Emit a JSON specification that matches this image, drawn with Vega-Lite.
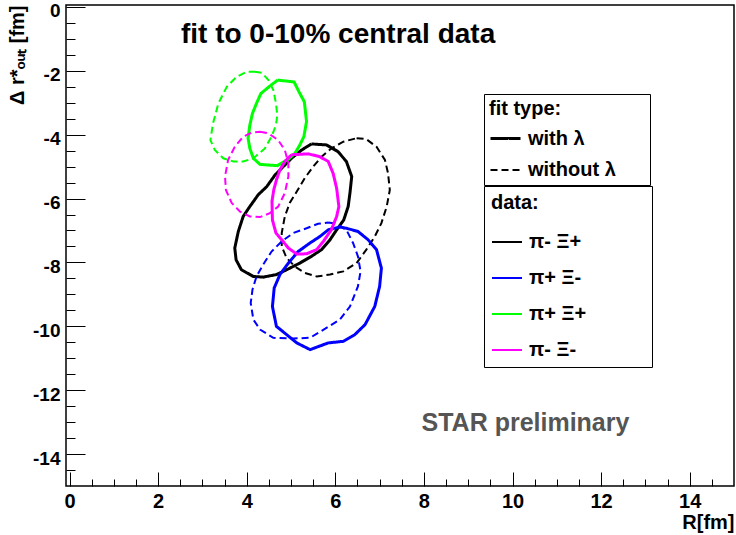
{
  "$schema": "https://vega.github.io/schema/vega-lite/v6.json",
  "description": "Contours of R vs delta r*_out for pi-Xi pairs, fits with and without lambda, 0-10% central data.",
  "width": 668,
  "height": 481,
  "autosize": {"type": "none"},
  "padding": {"left": 66, "top": 5, "right": 2, "bottom": 49},
  "background": "white",
  "datasets": {
    "contours": [
      {"s": "π- Ξ+", "f": "with λ", "i": 0, "R": 5.46, "dr": -4.29},
      {"s": "π- Ξ+", "f": "with λ", "i": 1, "R": 5.80, "dr": -4.32},
      {"s": "π- Ξ+", "f": "with λ", "i": 2, "R": 6.06, "dr": -4.53},
      {"s": "π- Ξ+", "f": "with λ", "i": 3, "R": 6.25, "dr": -4.84},
      {"s": "π- Ξ+", "f": "with λ", "i": 4, "R": 6.37, "dr": -5.31},
      {"s": "π- Ξ+", "f": "with λ", "i": 5, "R": 6.33, "dr": -5.83},
      {"s": "π- Ξ+", "f": "with λ", "i": 6, "R": 6.29, "dr": -6.25},
      {"s": "π- Ξ+", "f": "with λ", "i": 7, "R": 6.19, "dr": -6.67},
      {"s": "π- Ξ+", "f": "with λ", "i": 8, "R": 6.03, "dr": -6.98},
      {"s": "π- Ξ+", "f": "with λ", "i": 9, "R": 5.88, "dr": -7.29},
      {"s": "π- Ξ+", "f": "with λ", "i": 10, "R": 5.69, "dr": -7.60},
      {"s": "π- Ξ+", "f": "with λ", "i": 11, "R": 5.46, "dr": -7.81},
      {"s": "π- Ξ+", "f": "with λ", "i": 12, "R": 5.20, "dr": -8.02},
      {"s": "π- Ξ+", "f": "with λ", "i": 13, "R": 4.90, "dr": -8.23},
      {"s": "π- Ξ+", "f": "with λ", "i": 14, "R": 4.67, "dr": -8.38},
      {"s": "π- Ξ+", "f": "with λ", "i": 15, "R": 4.37, "dr": -8.46},
      {"s": "π- Ξ+", "f": "with λ", "i": 16, "R": 4.15, "dr": -8.44},
      {"s": "π- Ξ+", "f": "with λ", "i": 17, "R": 3.88, "dr": -8.23},
      {"s": "π- Ξ+", "f": "with λ", "i": 18, "R": 3.76, "dr": -7.92},
      {"s": "π- Ξ+", "f": "with λ", "i": 19, "R": 3.73, "dr": -7.55},
      {"s": "π- Ξ+", "f": "with λ", "i": 20, "R": 3.81, "dr": -7.03},
      {"s": "π- Ξ+", "f": "with λ", "i": 21, "R": 3.92, "dr": -6.56},
      {"s": "π- Ξ+", "f": "with λ", "i": 22, "R": 4.07, "dr": -6.25},
      {"s": "π- Ξ+", "f": "with λ", "i": 23, "R": 4.26, "dr": -5.88},
      {"s": "π- Ξ+", "f": "with λ", "i": 24, "R": 4.45, "dr": -5.63},
      {"s": "π- Ξ+", "f": "with λ", "i": 25, "R": 4.64, "dr": -5.26},
      {"s": "π- Ξ+", "f": "with λ", "i": 26, "R": 4.79, "dr": -5.05},
      {"s": "π- Ξ+", "f": "with λ", "i": 27, "R": 5.01, "dr": -4.74},
      {"s": "π- Ξ+", "f": "with λ", "i": 28, "R": 5.24, "dr": -4.48},
      {"s": "π- Ξ+", "f": "with λ", "i": 29, "R": 5.46, "dr": -4.29},

      {"s": "π- Ξ+", "f": "without λ", "i": 0, "R": 6.48, "dr": -4.11},
      {"s": "π- Ξ+", "f": "without λ", "i": 1, "R": 6.70, "dr": -4.14},
      {"s": "π- Ξ+", "f": "without λ", "i": 2, "R": 6.93, "dr": -4.38},
      {"s": "π- Ξ+", "f": "without λ", "i": 3, "R": 7.12, "dr": -4.79},
      {"s": "π- Ξ+", "f": "without λ", "i": 4, "R": 7.19, "dr": -5.21},
      {"s": "π- Ξ+", "f": "without λ", "i": 5, "R": 7.23, "dr": -5.73},
      {"s": "π- Ξ+", "f": "without λ", "i": 6, "R": 7.16, "dr": -6.25},
      {"s": "π- Ξ+", "f": "without λ", "i": 7, "R": 7.04, "dr": -6.77},
      {"s": "π- Ξ+", "f": "without λ", "i": 8, "R": 6.89, "dr": -7.19},
      {"s": "π- Ξ+", "f": "without λ", "i": 9, "R": 6.70, "dr": -7.60},
      {"s": "π- Ξ+", "f": "without λ", "i": 10, "R": 6.48, "dr": -8.02},
      {"s": "π- Ξ+", "f": "without λ", "i": 11, "R": 6.18, "dr": -8.28},
      {"s": "π- Ξ+", "f": "without λ", "i": 12, "R": 5.88, "dr": -8.38},
      {"s": "π- Ξ+", "f": "without λ", "i": 13, "R": 5.58, "dr": -8.44},
      {"s": "π- Ξ+", "f": "without λ", "i": 14, "R": 5.31, "dr": -8.33},
      {"s": "π- Ξ+", "f": "without λ", "i": 15, "R": 5.09, "dr": -8.13},
      {"s": "π- Ξ+", "f": "without λ", "i": 16, "R": 4.90, "dr": -7.86},
      {"s": "π- Ξ+", "f": "without λ", "i": 17, "R": 4.79, "dr": -7.50},
      {"s": "π- Ξ+", "f": "without λ", "i": 18, "R": 4.79, "dr": -7.08},
      {"s": "π- Ξ+", "f": "without λ", "i": 19, "R": 4.86, "dr": -6.56},
      {"s": "π- Ξ+", "f": "without λ", "i": 20, "R": 4.97, "dr": -6.14},
      {"s": "π- Ξ+", "f": "without λ", "i": 21, "R": 5.13, "dr": -5.78},
      {"s": "π- Ξ+", "f": "without λ", "i": 22, "R": 5.31, "dr": -5.36},
      {"s": "π- Ξ+", "f": "without λ", "i": 23, "R": 5.50, "dr": -5.00},
      {"s": "π- Ξ+", "f": "without λ", "i": 24, "R": 5.69, "dr": -4.69},
      {"s": "π- Ξ+", "f": "without λ", "i": 25, "R": 5.91, "dr": -4.43},
      {"s": "π- Ξ+", "f": "without λ", "i": 26, "R": 6.18, "dr": -4.22},
      {"s": "π- Ξ+", "f": "without λ", "i": 27, "R": 6.48, "dr": -4.11},

      {"s": "π+ Ξ-", "f": "with λ", "i": 0, "R": 6.10, "dr": -6.89},
      {"s": "π+ Ξ-", "f": "with λ", "i": 1, "R": 6.25, "dr": -6.93},
      {"s": "π+ Ξ-", "f": "with λ", "i": 2, "R": 6.51, "dr": -7.03},
      {"s": "π+ Ξ-", "f": "with λ", "i": 3, "R": 6.74, "dr": -7.29},
      {"s": "π+ Ξ-", "f": "with λ", "i": 4, "R": 6.93, "dr": -7.60},
      {"s": "π+ Ξ-", "f": "with λ", "i": 5, "R": 7.04, "dr": -8.18},
      {"s": "π+ Ξ-", "f": "with λ", "i": 6, "R": 7.00, "dr": -8.75},
      {"s": "π+ Ξ-", "f": "with λ", "i": 7, "R": 6.89, "dr": -9.38},
      {"s": "π+ Ξ-", "f": "with λ", "i": 8, "R": 6.67, "dr": -9.95},
      {"s": "π+ Ξ-", "f": "with λ", "i": 9, "R": 6.44, "dr": -10.26},
      {"s": "π+ Ξ-", "f": "with λ", "i": 10, "R": 6.18, "dr": -10.47},
      {"s": "π+ Ξ-", "f": "with λ", "i": 11, "R": 5.84, "dr": -10.52},
      {"s": "π+ Ξ-", "f": "with λ", "i": 12, "R": 5.43, "dr": -10.73},
      {"s": "π+ Ξ-", "f": "with λ", "i": 13, "R": 5.13, "dr": -10.52},
      {"s": "π+ Ξ-", "f": "with λ", "i": 14, "R": 4.90, "dr": -10.26},
      {"s": "π+ Ξ-", "f": "with λ", "i": 15, "R": 4.67, "dr": -10.00},
      {"s": "π+ Ξ-", "f": "with λ", "i": 16, "R": 4.58, "dr": -9.38},
      {"s": "π+ Ξ-", "f": "with λ", "i": 17, "R": 4.62, "dr": -8.80},
      {"s": "π+ Ξ-", "f": "with λ", "i": 18, "R": 4.75, "dr": -8.38},
      {"s": "π+ Ξ-", "f": "with λ", "i": 19, "R": 4.94, "dr": -8.02},
      {"s": "π+ Ξ-", "f": "with λ", "i": 20, "R": 5.16, "dr": -7.66},
      {"s": "π+ Ξ-", "f": "with λ", "i": 21, "R": 5.43, "dr": -7.39},
      {"s": "π+ Ξ-", "f": "with λ", "i": 22, "R": 5.65, "dr": -7.19},
      {"s": "π+ Ξ-", "f": "with λ", "i": 23, "R": 5.84, "dr": -6.98},
      {"s": "π+ Ξ-", "f": "with λ", "i": 24, "R": 6.10, "dr": -6.89},

      {"s": "π+ Ξ-", "f": "without λ", "i": 0, "R": 5.84, "dr": -6.75},
      {"s": "π+ Ξ-", "f": "without λ", "i": 1, "R": 6.03, "dr": -6.79},
      {"s": "π+ Ξ-", "f": "without λ", "i": 2, "R": 6.25, "dr": -6.98},
      {"s": "π+ Ξ-", "f": "without λ", "i": 3, "R": 6.40, "dr": -7.39},
      {"s": "π+ Ξ-", "f": "without λ", "i": 4, "R": 6.51, "dr": -7.81},
      {"s": "π+ Ξ-", "f": "without λ", "i": 5, "R": 6.57, "dr": -8.28},
      {"s": "π+ Ξ-", "f": "without λ", "i": 6, "R": 6.51, "dr": -8.75},
      {"s": "π+ Ξ-", "f": "without λ", "i": 7, "R": 6.33, "dr": -9.38},
      {"s": "π+ Ξ-", "f": "without λ", "i": 8, "R": 6.10, "dr": -9.79},
      {"s": "π+ Ξ-", "f": "without λ", "i": 9, "R": 5.80, "dr": -10.05},
      {"s": "π+ Ξ-", "f": "without λ", "i": 10, "R": 5.43, "dr": -10.36},
      {"s": "π+ Ξ-", "f": "without λ", "i": 11, "R": 5.05, "dr": -10.38},
      {"s": "π+ Ξ-", "f": "without λ", "i": 12, "R": 4.60, "dr": -10.36},
      {"s": "π+ Ξ-", "f": "without λ", "i": 13, "R": 4.30, "dr": -10.10},
      {"s": "π+ Ξ-", "f": "without λ", "i": 14, "R": 4.15, "dr": -9.79},
      {"s": "π+ Ξ-", "f": "without λ", "i": 15, "R": 4.09, "dr": -9.27},
      {"s": "π+ Ξ-", "f": "without λ", "i": 16, "R": 4.13, "dr": -8.85},
      {"s": "π+ Ξ-", "f": "without λ", "i": 17, "R": 4.22, "dr": -8.44},
      {"s": "π+ Ξ-", "f": "without λ", "i": 18, "R": 4.37, "dr": -8.07},
      {"s": "π+ Ξ-", "f": "without λ", "i": 19, "R": 4.56, "dr": -7.66},
      {"s": "π+ Ξ-", "f": "without λ", "i": 20, "R": 4.79, "dr": -7.34},
      {"s": "π+ Ξ-", "f": "without λ", "i": 21, "R": 5.05, "dr": -7.08},
      {"s": "π+ Ξ-", "f": "without λ", "i": 22, "R": 5.35, "dr": -6.93},
      {"s": "π+ Ξ-", "f": "without λ", "i": 23, "R": 5.61, "dr": -6.79},
      {"s": "π+ Ξ-", "f": "without λ", "i": 24, "R": 5.84, "dr": -6.75},

      {"s": "π+ Ξ+", "f": "with λ", "i": 0, "R": 4.70, "dr": -2.29},
      {"s": "π+ Ξ+", "f": "with λ", "i": 1, "R": 5.07, "dr": -2.35},
      {"s": "π+ Ξ+", "f": "with λ", "i": 2, "R": 5.18, "dr": -2.66},
      {"s": "π+ Ξ+", "f": "with λ", "i": 3, "R": 5.30, "dr": -2.97},
      {"s": "π+ Ξ+", "f": "with λ", "i": 4, "R": 5.35, "dr": -3.59},
      {"s": "π+ Ξ+", "f": "with λ", "i": 5, "R": 5.29, "dr": -4.06},
      {"s": "π+ Ξ+", "f": "with λ", "i": 6, "R": 5.20, "dr": -4.32},
      {"s": "π+ Ξ+", "f": "with λ", "i": 7, "R": 5.09, "dr": -4.58},
      {"s": "π+ Ξ+", "f": "with λ", "i": 8, "R": 4.94, "dr": -4.77},
      {"s": "π+ Ξ+", "f": "with λ", "i": 9, "R": 4.69, "dr": -4.97},
      {"s": "π+ Ξ+", "f": "with λ", "i": 10, "R": 4.48, "dr": -4.95},
      {"s": "π+ Ξ+", "f": "with λ", "i": 11, "R": 4.30, "dr": -4.93},
      {"s": "π+ Ξ+", "f": "with λ", "i": 12, "R": 4.15, "dr": -4.74},
      {"s": "π+ Ξ+", "f": "with λ", "i": 13, "R": 4.07, "dr": -4.43},
      {"s": "π+ Ξ+", "f": "with λ", "i": 14, "R": 4.03, "dr": -4.11},
      {"s": "π+ Ξ+", "f": "with λ", "i": 15, "R": 4.07, "dr": -3.70},
      {"s": "π+ Ξ+", "f": "with λ", "i": 16, "R": 4.13, "dr": -3.33},
      {"s": "π+ Ξ+", "f": "with λ", "i": 17, "R": 4.22, "dr": -3.02},
      {"s": "π+ Ξ+", "f": "with λ", "i": 18, "R": 4.32, "dr": -2.71},
      {"s": "π+ Ξ+", "f": "with λ", "i": 19, "R": 4.52, "dr": -2.48},
      {"s": "π+ Ξ+", "f": "with λ", "i": 20, "R": 4.70, "dr": -2.29},

      {"s": "π+ Ξ+", "f": "without λ", "i": 0, "R": 4.18, "dr": -2.03},
      {"s": "π+ Ξ+", "f": "without λ", "i": 1, "R": 4.34, "dr": -2.06},
      {"s": "π+ Ξ+", "f": "without λ", "i": 2, "R": 4.49, "dr": -2.29},
      {"s": "π+ Ξ+", "f": "without λ", "i": 3, "R": 4.60, "dr": -2.60},
      {"s": "π+ Ξ+", "f": "without λ", "i": 4, "R": 4.66, "dr": -3.02},
      {"s": "π+ Ξ+", "f": "without λ", "i": 5, "R": 4.69, "dr": -3.38},
      {"s": "π+ Ξ+", "f": "without λ", "i": 6, "R": 4.66, "dr": -3.70},
      {"s": "π+ Ξ+", "f": "without λ", "i": 7, "R": 4.56, "dr": -4.06},
      {"s": "π+ Ξ+", "f": "without λ", "i": 8, "R": 4.41, "dr": -4.43},
      {"s": "π+ Ξ+", "f": "without λ", "i": 9, "R": 4.15, "dr": -4.74},
      {"s": "π+ Ξ+", "f": "without λ", "i": 10, "R": 3.92, "dr": -4.84},
      {"s": "π+ Ξ+", "f": "without λ", "i": 11, "R": 3.70, "dr": -4.84},
      {"s": "π+ Ξ+", "f": "without λ", "i": 12, "R": 3.47, "dr": -4.74},
      {"s": "π+ Ξ+", "f": "without λ", "i": 13, "R": 3.28, "dr": -4.48},
      {"s": "π+ Ξ+", "f": "without λ", "i": 14, "R": 3.18, "dr": -4.17},
      {"s": "π+ Ξ+", "f": "without λ", "i": 15, "R": 3.24, "dr": -3.64},
      {"s": "π+ Ξ+", "f": "without λ", "i": 16, "R": 3.36, "dr": -3.02},
      {"s": "π+ Ξ+", "f": "without λ", "i": 17, "R": 3.55, "dr": -2.50},
      {"s": "π+ Ξ+", "f": "without λ", "i": 18, "R": 3.77, "dr": -2.19},
      {"s": "π+ Ξ+", "f": "without λ", "i": 19, "R": 4.00, "dr": -2.03},
      {"s": "π+ Ξ+", "f": "without λ", "i": 20, "R": 4.18, "dr": -2.03},

      {"s": "π- Ξ-", "f": "with λ", "i": 0, "R": 5.01, "dr": -4.63},
      {"s": "π- Ξ-", "f": "with λ", "i": 1, "R": 5.39, "dr": -4.60},
      {"s": "π- Ξ-", "f": "with λ", "i": 2, "R": 5.65, "dr": -4.69},
      {"s": "π- Ξ-", "f": "with λ", "i": 3, "R": 5.84, "dr": -4.84},
      {"s": "π- Ξ-", "f": "with λ", "i": 4, "R": 5.95, "dr": -5.21},
      {"s": "π- Ξ-", "f": "with λ", "i": 5, "R": 6.03, "dr": -5.68},
      {"s": "π- Ξ-", "f": "with λ", "i": 6, "R": 6.08, "dr": -6.25},
      {"s": "π- Ξ-", "f": "with λ", "i": 7, "R": 6.03, "dr": -6.56},
      {"s": "π- Ξ-", "f": "with λ", "i": 8, "R": 5.91, "dr": -6.98},
      {"s": "π- Ξ-", "f": "with λ", "i": 9, "R": 5.73, "dr": -7.34},
      {"s": "π- Ξ-", "f": "with λ", "i": 10, "R": 5.58, "dr": -7.60},
      {"s": "π- Ξ-", "f": "with λ", "i": 11, "R": 5.35, "dr": -7.73},
      {"s": "π- Ξ-", "f": "with λ", "i": 12, "R": 5.13, "dr": -7.74},
      {"s": "π- Ξ-", "f": "with λ", "i": 13, "R": 4.94, "dr": -7.55},
      {"s": "π- Ξ-", "f": "with λ", "i": 14, "R": 4.79, "dr": -7.29},
      {"s": "π- Ξ-", "f": "with λ", "i": 15, "R": 4.66, "dr": -7.08},
      {"s": "π- Ξ-", "f": "with λ", "i": 16, "R": 4.58, "dr": -6.67},
      {"s": "π- Ξ-", "f": "with λ", "i": 17, "R": 4.57, "dr": -6.09},
      {"s": "π- Ξ-", "f": "with λ", "i": 18, "R": 4.61, "dr": -5.73},
      {"s": "π- Ξ-", "f": "with λ", "i": 19, "R": 4.67, "dr": -5.42},
      {"s": "π- Ξ-", "f": "with λ", "i": 20, "R": 4.75, "dr": -5.10},
      {"s": "π- Ξ-", "f": "with λ", "i": 21, "R": 4.86, "dr": -4.84},
      {"s": "π- Ξ-", "f": "with λ", "i": 22, "R": 5.01, "dr": -4.63},

      {"s": "π- Ξ-", "f": "without λ", "i": 0, "R": 4.30, "dr": -3.91},
      {"s": "π- Ξ-", "f": "without λ", "i": 1, "R": 4.49, "dr": -3.96},
      {"s": "π- Ξ-", "f": "without λ", "i": 2, "R": 4.71, "dr": -4.17},
      {"s": "π- Ξ-", "f": "without λ", "i": 3, "R": 4.86, "dr": -4.48},
      {"s": "π- Ξ-", "f": "without λ", "i": 4, "R": 4.94, "dr": -4.89},
      {"s": "π- Ξ-", "f": "without λ", "i": 5, "R": 4.94, "dr": -5.31},
      {"s": "π- Ξ-", "f": "without λ", "i": 6, "R": 4.86, "dr": -5.83},
      {"s": "π- Ξ-", "f": "without λ", "i": 7, "R": 4.71, "dr": -6.25},
      {"s": "π- Ξ-", "f": "without λ", "i": 8, "R": 4.52, "dr": -6.46},
      {"s": "π- Ξ-", "f": "without λ", "i": 9, "R": 4.30, "dr": -6.58},
      {"s": "π- Ξ-", "f": "without λ", "i": 10, "R": 4.07, "dr": -6.56},
      {"s": "π- Ξ-", "f": "without λ", "i": 11, "R": 3.85, "dr": -6.41},
      {"s": "π- Ξ-", "f": "without λ", "i": 12, "R": 3.66, "dr": -6.14},
      {"s": "π- Ξ-", "f": "without λ", "i": 13, "R": 3.53, "dr": -5.73},
      {"s": "π- Ξ-", "f": "without λ", "i": 14, "R": 3.51, "dr": -5.31},
      {"s": "π- Ξ-", "f": "without λ", "i": 15, "R": 3.58, "dr": -4.79},
      {"s": "π- Ξ-", "f": "without λ", "i": 16, "R": 3.73, "dr": -4.38},
      {"s": "π- Ξ-", "f": "without λ", "i": 17, "R": 3.92, "dr": -4.06},
      {"s": "π- Ξ-", "f": "without λ", "i": 18, "R": 4.11, "dr": -3.94},
      {"s": "π- Ξ-", "f": "without λ", "i": 19, "R": 4.30, "dr": -3.91}
    ]
  },
  "layer": [
    {
      "data": {"name": "contours"},
      "mark": {"type": "line", "interpolate": "linear", "clip": true},
      "encoding": {
        "x": {
          "field": "R",
          "type": "quantitative",
          "scale": {"domain": [-0.08, 15], "nice": false, "zero": false},
          "axis": {
            "values": [0, 0.5, 1, 1.5, 2, 2.5, 3, 3.5, 4, 4.5, 5, 5.5, 6, 6.5, 7, 7.5, 8, 8.5, 9, 9.5, 10, 10.5, 11, 11.5, 12, 12.5, 13, 13.5, 14, 14.5],
            "tickCount": 100,
            "domain": false,
            "grid": false,
            "tickColor": "black",
            "tickWidth": 1,
            "tickSize": {"condition": {"test": "datum.value % 2 === 0", "value": -14}, "value": -7},
            "labelExpr": "datum.value % 2 === 0 ? '' + datum.value : ''",
            "labelFont": "Liberation Sans",
            "labelFontWeight": "bold",
            "labelFontSize": 20,
            "labelColor": "black",
            "labelPadding": 19,
            "labelFlush": false,
            "labelOverlap": false,
            "title": "R[fm]",
            "titleFont": "Liberation Sans",
            "titleFontWeight": "bold",
            "titleFontSize": 20,
            "titleColor": "black",
            "titleAlign": "right",
            "titleBaseline": "alphabetic",
            "titleX": 668,
            "titleY": 42
          }
        },
        "y": {
          "field": "dr",
          "type": "quantitative",
          "scale": {"domain": [-15, 0.06], "nice": false, "zero": false},
          "axis": {
            "values": [-14.5, -14, -13.5, -13, -12.5, -12, -11.5, -11, -10.5, -10, -9.5, -9, -8.5, -8, -7.5, -7, -6.5, -6, -5.5, -5, -4.5, -4, -3.5, -3, -2.5, -2, -1.5, -1, -0.5, 0],
            "tickCount": 100,
            "domain": false,
            "grid": false,
            "tickColor": "black",
            "tickWidth": 1,
            "tickSize": {"condition": {"test": "datum.value % 2 === 0", "value": -19}, "value": -9},
            "labelExpr": "datum.value % 2 === 0 ? '' + datum.value : ''",
            "labelFont": "Liberation Sans",
            "labelFontWeight": "bold",
            "labelFontSize": 19,
            "labelColor": "black",
            "labelPadding": 25,
            "labelOffset": 4,
            "labelFlush": false,
            "labelOverlap": false,
            "title": "Δ r*ₒᵤₜ [fm]",
            "titleFont": "Liberation Sans",
            "titleFontWeight": "bold",
            "titleFontSize": 20,
            "titleColor": "black",
            "titleAngle": -90,
            "titleAlign": "right",
            "titleBaseline": "middle",
            "titleX": -49,
            "titleY": 0
          }
        },
        "order": {"field": "i", "type": "quantitative"},
        "color": {
          "field": "s",
          "type": "nominal",
          "scale": {"domain": ["π- Ξ+", "π+ Ξ-", "π+ Ξ+", "π- Ξ-"], "range": ["#000000", "#0000ff", "#00ff00", "#ff00ff"]},
          "legend": {
            "orient": "none",
            "legendX": 418,
            "legendY": 181,
            "title": "data:\u00a0\u00a0\u00a0\u00a0\u00a0\u00a0\u00a0\u00a0\u00a0\u00a0\u00a0\u00a0\u00a0\u00a0\u00a0\u00a0\u00a0\u00a0\u00a0\u200b",
            "titleFont": "Liberation Sans",
            "titleFontSize": 20,
            "titleFontWeight": "bold",
            "titleColor": "black",
            "titlePadding": 13,
            "labelFont": "Liberation Sans",
            "labelFontSize": 20,
            "labelFontWeight": "bold",
            "labelColor": "black",
            "labelOffset": 6,
            "symbolType": "stroke",
            "symbolSize": 900,
            "symbolStrokeWidth": 2,
            "rowPadding": 10,
            "padding": 7,
            "strokeColor": "black",
            "fillColor": "white",
            "cornerRadius": 0
          }
        },
        "strokeDash": {
          "field": "f",
          "type": "nominal",
          "scale": {"domain": ["with λ", "without λ"], "range": [[1, 0], [7, 4]]},
          "legend": {
            "orient": "none",
            "legendX": 418,
            "legendY": 89,
            "title": "fit type:\u00a0\u00a0\u00a0\u00a0\u00a0\u00a0\u00a0\u00a0\u00a0\u00a0\u00a0\u00a0\u00a0\u00a0\u00a0\u200b",
            "titleFont": "Liberation Sans",
            "titleFontSize": 20,
            "titleFontWeight": "bold",
            "titleColor": "black",
            "titlePadding": 3,
            "labelFont": "Liberation Sans",
            "labelFontSize": 20,
            "labelFontWeight": "bold",
            "labelColor": "black",
            "labelOffset": 6,
            "symbolType": "stroke",
            "symbolSize": 900,
            "symbolStrokeColor": "black",
            "symbolStrokeWidth": 1.5,
            "rowPadding": 5,
            "padding": 5,
            "strokeColor": "black",
            "fillColor": "white",
            "cornerRadius": 0
          }
        },
        "strokeWidth": {
          "field": "f",
          "type": "ordinal",
          "scale": {"domain": ["with λ", "without λ"], "range": [3, 2]},
          "legend": null
        }
      }
    },
    {
      "data": {"values": [{"R": 2.515, "dr": -1.134, "note": "fit to 0-10% central data"}]},
      "mark": {"type": "text", "align": "left", "baseline": "alphabetic", "font": "Liberation Sans", "fontWeight": "bold", "fontSize": 28, "color": "black"},
      "encoding": {
        "x": {"field": "R", "type": "quantitative"},
        "y": {"field": "dr", "type": "quantitative"},
        "text": {"field": "note"}
      }
    },
    {
      "data": {"values": [{"R": 7.945, "dr": -13.28, "note": "STAR preliminary"}]},
      "mark": {"type": "text", "align": "left", "baseline": "alphabetic", "font": "Liberation Sans", "fontWeight": "bold", "fontSize": 25, "color": "#555555"},
      "encoding": {
        "x": {"field": "R", "type": "quantitative"},
        "y": {"field": "dr", "type": "quantitative"},
        "text": {"field": "note"}
      }
    }
  ],
  "config": {
    "view": {"stroke": "black", "strokeWidth": 1.5},
    "font": "Liberation Sans"
  }
}
